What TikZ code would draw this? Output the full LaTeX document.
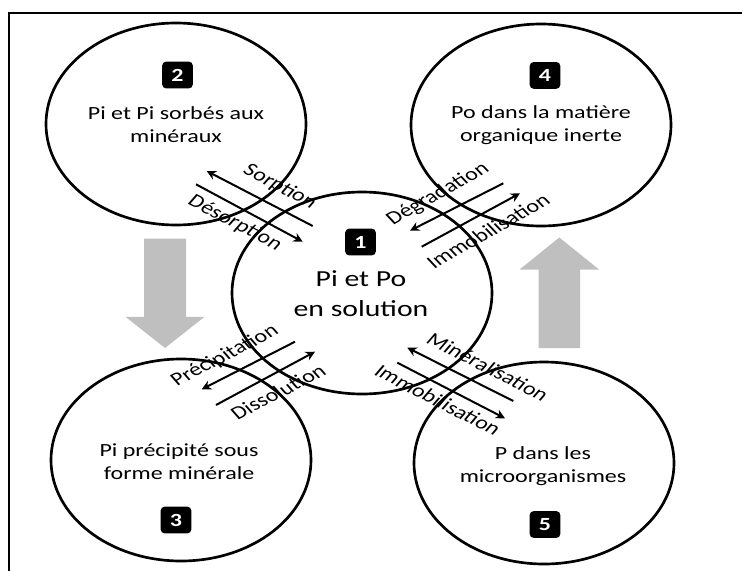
\documentclass[tikz,border=0pt]{standalone}
\usepackage{fontspec}
\setmainfont{Carlito}
\usetikzlibrary{shapes.geometric,arrows.meta}

\tikzset{
  pool/.style={draw, ellipse, line width=2pt, minimum width=195pt, minimum height=151.5pt, inner sep=0pt},
  squash/.style={transform shape, yscale=-0.773},
  pooltext/.style={squash, align=center, inner sep=0pt, font=\fontsize{18}{22.3}\selectfont},
  numbox/.style={squash, fill=black, text=white, rounded corners=3pt, minimum width=23pt, minimum height=26pt, inner sep=0pt, font=\fontsize{18}{18}\selectfont\bfseries},
  flux/.style={line width=1.5pt, -{Stealth[length=7pt,width=7pt]}},
  fluxlbl/.style={squash, inner sep=0pt, font=\fontsize{18}{18}\selectfont},
  transfer/.style={fill={rgb, 255:red, 191; green, 191; blue, 191}},
}

\begin{document}
\begin{tikzpicture}[x=0.75pt,y=0.75pt,yscale=-1,xscale=1]
	\useasboundingbox (0,0) rectangle (742,571);
	
	%Frame
	\draw [line width=1.5pt] (9,571) -- (9,12.7) -- (742,12.7) ;
	
	%Pools
	\draw (362,293) node [pool] (c1) {};
	\draw (176,124) node [pool] (c2) {};
	\draw (181,460) node [pool] (c3) {};
	\draw (541,125) node [pool] (c4) {};
	\draw (544,463) node [pool] (c5) {};
	
	%Gray arrow, down
	\fill [transfer] (144,238.5) -- (186,238.5) -- (186,316.8) -- (204.5,316.8) -- (165,348) -- (125.5,316.8) -- (144,316.8) -- cycle ;
	%Gray arrow, up
	\fill [transfer] (538.5,348) -- (580,348) -- (580,269.5) -- (599,269.5) -- (559.3,237.5) -- (519.6,269.5) -- (538.5,269.5) -- cycle ;
	
	%Flux ends
	\coordinate (sorpA) at (312.7,226) ;
	\coordinate (sorpB) at (206.7,171) ;
	\coordinate (desoA) at (196,184.3) ;
	\coordinate (desoB) at (302.7,241.7) ;
	\coordinate (degrA) at (503.3,183.3) ;
	\coordinate (degrB) at (410,230.7) ;
	\coordinate (imoaA) at (421.7,246.7) ;
	\coordinate (imoaB) at (520,193.3) ;
	\coordinate (precA) at (295,341.7) ;
	\coordinate (precB) at (201.7,389.3) ;
	\coordinate (dissA) at (216,405) ;
	\coordinate (dissB) at (315,351.7) ;
	\coordinate (minrA) at (513.3,401) ;
	\coordinate (minrB) at (407.3,347.7) ;
	\coordinate (imobA) at (397.3,362.7) ;
	\coordinate (imobB) at (505,418.3) ;
	
	%Fluxes
	\draw [flux] (sorpA) -- (sorpB) ;
	\draw [flux] (desoA) -- (desoB) ;
	\draw [flux] (degrA) -- (degrB) ;
	\draw [flux] (imoaA) -- (imoaB) ;
	\draw [flux] (precA) -- (precB) ;
	\draw [flux] (dissA) -- (dissB) ;
	\draw [flux] (minrA) -- (minrB) ;
	\draw [flux] (imobA) -- (imobB) ;
	
	% Text Node
	\draw (360.5,242) node [numbox] (n1) {1};
	\draw (177.5,75) node [numbox] (n2) {2};
	\draw (176,520) node [numbox] (n3) {3};
	\draw (545,75.4) node [numbox] (n4) {4};
	\draw (545,524.5) node [numbox] (n5) {5};
	% Text Node
	\draw (361,294) node [pooltext, font=\fontsize{22.3}{29.3}\selectfont] (t1) {Pi et Po\\en solution};
	\draw (176,125) node [pooltext] (t2) {Pi et Pi sorbés aux\\minéraux};
	\draw (179,461.5) node [pooltext] (t3) {Pi précipité sous\\forme minérale};
	\draw (541,125.5) node [pooltext] (t4) {Po dans la matière\\organique inerte};
	\draw (543,466) node [pooltext] (t5) {P dans les\\microorganismes};
	% Text Node
	\draw (280,186.7) node [fluxlbl, rotate=-34] (lsorp) {Sorption};
	\draw (235,223) node [fluxlbl, rotate=-34] (ldeso) {Désorption};
	\draw (438,194) node [fluxlbl, rotate=36] (ldegr) {Dégradation};
	\draw (488,231) node [fluxlbl, rotate=36] (limoa) {Immobilisation};
	\draw (225,356) node [fluxlbl, rotate=34] (lprec) {Précipitation};
	\draw (278,392) node [fluxlbl, rotate=34] (ldiss) {Dissolution};
	\draw (488,367) node [fluxlbl, rotate=-33.5] (lminr) {Minéralisation};
	\draw (438,400) node [fluxlbl, rotate=-33.5] (limob) {Immobilisation};
	
\end{tikzpicture}
\end{document}
